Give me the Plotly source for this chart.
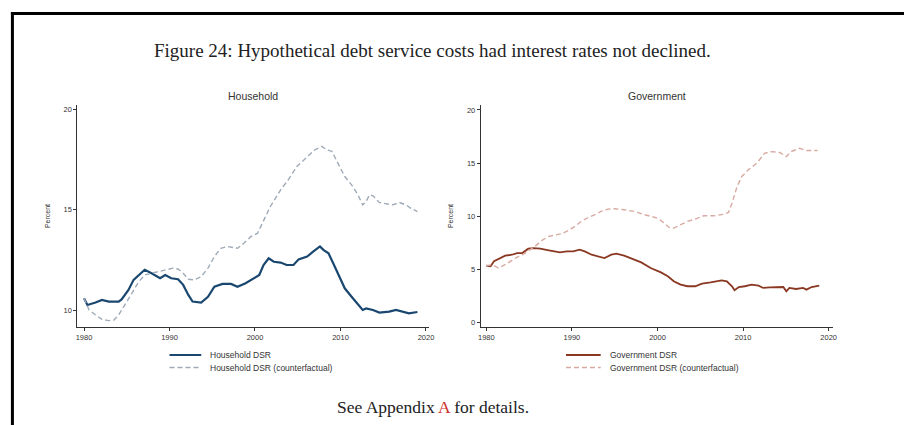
import plotly.graph_objects as go

# Household debt service ratio (percent of income)
hh_years = [1980, 1980.4, 1981.35, 1982.1, 1982.9, 1984.05, 1984.4, 1985.2, 1985.8, 1986.75,
            1987.1, 1987.9, 1988.9, 1989.5, 1990.2, 1991.0, 1991.6, 1992.2, 1992.7, 1993.7,
            1994.5, 1995.25, 1996.2, 1997.2, 1997.95, 1998.9, 1999.9, 2000.5, 2001.0, 2001.6,
            2002.2, 2003.0, 2003.7, 2004.5, 2005.1, 2006.1, 2006.8, 2007.6, 2008.0, 2008.6,
            2009.15, 2009.9, 2010.5, 2011.3, 2012.05, 2012.6, 2013.0, 2013.8, 2014.55, 2015.7,
            2016.5, 2017.3, 2018.0, 2019.0]
hh_dsr = [10.58, 10.25, 10.37, 10.5, 10.42, 10.42, 10.53, 11.0, 11.5, 11.9,
          12.0, 11.83, 11.58, 11.74, 11.58, 11.53, 11.25, 10.75, 10.42, 10.37,
          10.66, 11.16, 11.3, 11.3, 11.16, 11.33, 11.58, 11.74, 12.24, 12.57,
          12.4, 12.36, 12.24, 12.24, 12.52, 12.66, 12.9, 13.16, 12.99, 12.82,
          12.33, 11.66, 11.08, 10.66, 10.25, 10.0, 10.08, 10.0, 9.87, 9.92,
          10.0, 9.92, 9.83, 9.9]

# Household DSR had interest rates stayed put
hh_cf_years = [1980, 1980.6, 1981.35, 1982.1, 1982.9, 1983.5, 1984.05, 1984.8, 1985.6, 1986.4,
               1987.1, 1987.9, 1988.7, 1989.5, 1990.4, 1991.0, 1991.6, 1992.2, 1992.9, 1993.7,
               1994.5, 1995.25, 1996.0, 1996.8, 1997.95, 1998.7, 1999.5, 2000.3, 2000.85, 2001.8,
               2003.0, 2003.9, 2004.9, 2006.1, 2007.0, 2007.8, 2008.4, 2009.0, 2009.7, 2010.5,
               2011.3, 2012.05, 2012.6, 2013.0, 2013.4, 2013.8, 2014.55, 2015.3, 2016.1, 2016.9,
               2017.65, 2018.2, 2019.0]
hh_cf = [10.58, 10.0, 9.75, 9.53, 9.47, 9.5, 9.75, 10.25, 10.83, 11.41,
         11.74, 11.83, 11.91, 12.0, 12.08, 12.04, 11.83, 11.53, 11.5, 11.66,
         12.08, 12.66, 13.07, 13.16, 13.07, 13.32, 13.65, 13.82, 14.32, 15.15,
         15.98, 16.48, 17.14, 17.64, 17.97, 18.14, 17.97, 17.89, 17.31, 16.64,
         16.23, 15.73, 15.23, 15.4, 15.73, 15.68, 15.35, 15.28, 15.23, 15.35,
         15.23, 15.07, 14.9]

# Government debt service ratio
gov_years = [1980, 1980.5, 1980.9, 1981.7, 1982.2, 1983.0, 1983.6, 1984.2, 1984.9, 1985.5,
             1986.3, 1987.3, 1988.0, 1988.6, 1989.4, 1990.15, 1990.9, 1991.5, 1992.3, 1993.2,
             1993.8, 1994.6, 1995.2, 1996.1, 1997.1, 1998.1, 1999.2, 2000.4, 2001.2, 2001.9,
             2002.7, 2003.5, 2004.4, 2005.2, 2006.2, 2006.95, 2007.5, 2008.1, 2008.7, 2009.0,
             2009.5, 2010.2, 2011.0, 2011.8, 2012.35, 2013.1, 2013.9, 2014.7, 2015.05, 2015.4,
             2016.2, 2017.0, 2017.4, 2018.0, 2018.9]
gov_dsr = [5.33, 5.27, 5.74, 6.05, 6.27, 6.36, 6.52, 6.52, 6.93, 6.99,
           6.93, 6.77, 6.68, 6.58, 6.68, 6.68, 6.83, 6.68, 6.36, 6.21,
           6.05, 6.36, 6.46, 6.27, 5.99, 5.64, 5.11, 4.70, 4.33, 3.86,
           3.54, 3.39, 3.39, 3.64, 3.76, 3.86, 3.95, 3.86, 3.39, 3.01,
           3.32, 3.39, 3.54, 3.45, 3.23, 3.29, 3.32, 3.32, 2.92, 3.23,
           3.13, 3.23, 3.07, 3.32, 3.45]

# Government DSR had interest rates stayed put
gov_cf_years = [1980, 1980.7, 1981.4, 1982.2, 1983.4, 1984.55, 1985.7, 1986.5, 1987.3, 1988.0,
                1988.8, 1989.6, 1990.35, 1991.1, 1991.9, 1992.7, 1993.4, 1994.2, 1995.0, 1996.1,
                1997.3, 1998.5, 1999.2, 2000.0, 2000.8, 2001.35, 2001.9, 2002.7, 2003.5, 2004.4,
                2005.4, 2006.6, 2007.7, 2008.3, 2008.7, 2009.3, 2009.85, 2010.6, 2011.6, 2012.5,
                2013.3, 2014.3, 2015.05, 2015.6, 2016.6, 2017.4, 2018.1, 2018.7]
gov_cf = [5.33, 5.42, 5.11, 5.42, 6.05, 6.52, 7.15, 7.71, 8.09, 8.24,
          8.34, 8.65, 9.03, 9.50, 9.87, 10.13, 10.44, 10.66, 10.69, 10.60,
          10.44, 10.13, 9.97, 9.81, 9.34, 8.93, 8.87, 9.18, 9.50, 9.72,
          10.03, 10.03, 10.16, 10.34, 11.22, 12.79, 13.73, 14.36, 14.98, 15.92,
          16.08, 15.99, 15.61, 16.08, 16.39, 16.18, 16.18, 16.18]

x_ticks = [1980, 1990, 2000, 2010, 2020]
hh_y_ticks = [10, 15, 20]
gov_y_ticks = [0, 5, 10, 15, 20]

W, H = 909, 425
SANS = "Liberation Sans, Arial, sans-serif"
SERIF = "Liberation Serif, Times New Roman, serif"


def px(x):
    return x / W


def py(y):
    return 1 - y / H


# series styles, shared by the traces and the hand-built legend keys
styles = {
    "Household DSR": dict(color="#1a476f", width=2.2, dash="solid"),
    "Household DSR (counterfactual)": dict(color="#9fabb8", width=1.4, dash="5px,3px"),
    "Government DSR": dict(color="#8a3822", width=1.8, dash="solid"),
    "Government DSR (counterfactual)": dict(color="#d8aaa2", width=1.4, dash="5px,3px"),
}

fig = go.Figure()
series = [
    ("Household DSR", hh_years, hh_dsr, "x", "y"),
    ("Household DSR (counterfactual)", hh_cf_years, hh_cf, "x", "y"),
    ("Government DSR", gov_years, gov_dsr, "x2", "y2"),
    ("Government DSR (counterfactual)", gov_cf_years, gov_cf, "x2", "y2"),
]
for name, xs, ys, xa, ya in series:
    fig.add_trace(go.Scatter(x=xs, y=ys, mode="lines", name=name, line=styles[name],
                             xaxis=xa, yaxis=ya, showlegend=False))

tick_font = dict(family=SANS, size=7.5, color="#333")
axis_common = dict(showline=True, linecolor="#333", linewidth=1, ticks="outside",
                   ticklen=3, tickcolor="#333", tickwidth=1, showgrid=False,
                   zeroline=False, tickfont=tick_font)
ytitle = dict(text="Percent", font=dict(family=SANS, size=7, color="#333"), standoff=12)

fig.update_layout(
    width=W, height=H,
    margin=dict(l=0, r=0, t=0, b=0),
    paper_bgcolor="white", plot_bgcolor="white",
    xaxis=dict(domain=[px(75), px(430)], range=[1979.22, 2020.38], tickvals=x_ticks,
               anchor="y", **axis_common),
    yaxis=dict(domain=[py(327), py(105)], range=[9.154, 20.2], tickvals=hh_y_ticks,
               anchor="x", title=ytitle, **axis_common),
    xaxis2=dict(domain=[px(482), px(837)], range=[1979.35, 2020.46], tickvals=x_ticks,
                anchor="y2", **axis_common),
    yaxis2=dict(domain=[py(327), py(105)], range=[-0.45, 20.47], tickvals=gov_y_ticks,
                anchor="x2", title=ytitle, **axis_common),
    showlegend=False,
    font=dict(family=SANS),
)

annotations = [
    dict(text="Figure 24: Hypothetical debt service costs had interest rates not declined.",
         x=px(433), y=py(50), xanchor="center", font=dict(family=SERIF, size=19, color="#222")),
    dict(text="Household", x=px(252), y=py(96), xanchor="center",
         font=dict(family=SANS, size=10.5, color="#333")),
    dict(text="Government", x=px(660), y=py(96), xanchor="center",
         font=dict(family=SANS, size=10.5, color="#333")),
    dict(text='See Appendix <span style="color:#d0302a">A</span> for details.',
         x=px(434), y=py(407), xanchor="center", font=dict(family=SERIF, size=17.5, color="#222")),
]

shapes = [
    # page frame: heavy rule across the top and down the left side
    dict(type="line", xref="paper", yref="paper", x0=px(8), x1=1, y0=py(13.5), y1=py(13.5),
         line=dict(color="black", width=3)),
    dict(type="line", xref="paper", yref="paper", x0=px(9.5), x1=px(9.5), y0=py(12), y1=0,
         line=dict(color="black", width=3)),
]

# legends under each panel: key line + label, two rows
legend_blocks = [
    (168, 200, 207, ["Household DSR", "Household DSR (counterfactual)"]),
    (568, 603, 610, ["Government DSR", "Government DSR (counterfactual)"]),
]
for x0, x1, xt, names in legend_blocks:
    for row, name in enumerate(names):
        yrow = 355 + 12.5 * row
        shapes.append(dict(type="line", xref="paper", yref="paper", x0=px(x0), x1=px(x1),
                           y0=py(yrow), y1=py(yrow), line=styles[name]))
        annotations.append(dict(text=name, x=px(xt), y=py(yrow), xanchor="left",
                                font=dict(family=SANS, size=8.5, color="#333")))

for a in annotations:
    a.update(xref="paper", yref="paper", showarrow=False, yanchor="middle")
fig.update_layout(annotations=annotations, shapes=shapes)

fig.write_html("out.html")
